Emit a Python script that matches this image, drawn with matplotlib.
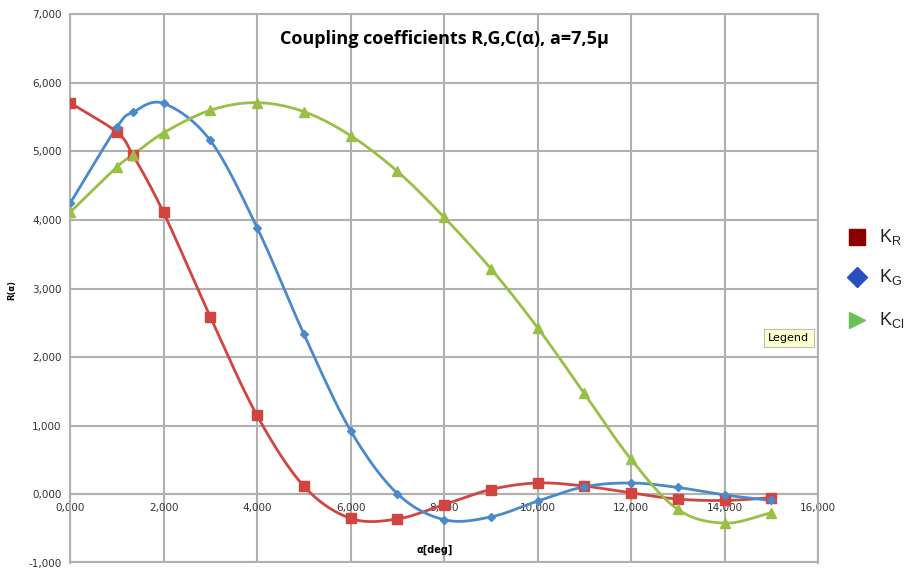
import numpy as np
import matplotlib
matplotlib.use("Agg")
import matplotlib.pyplot as plt
from matplotlib.ticker import FuncFormatter

# angle values (x axis, thousands shown with comma decimal)
alpha = [0, 1, 1.35, 2, 3, 4, 5, 6, 7, 8, 9, 10, 11, 12, 13, 14, 15]

k_r = [5.71, 5.28, 4.94, 4.11, 2.59, 1.15, 0.12, -0.35, -0.36, -0.15,
       0.07, 0.165, 0.12, 0.02, -0.07, -0.09, -0.05]
k_g = [4.24, 5.35, 5.57, 5.70, 5.16, 3.89, 2.34, 0.93, 0.01, -0.37,
       -0.33, -0.10, 0.11, 0.165, 0.10, -0.01, -0.09]
k_cl = [4.11, 4.77, 4.95, 5.27, 5.60, 5.71, 5.58, 5.23, 4.71, 4.04,
        3.29, 2.43, 1.47, 0.51, -0.22, -0.42, -0.27]

labels = ["K$_\\mathregular{R}$", "K$_\\mathregular{G}$", "K$_\\mathregular{Cl}$"]


def smooth(x, y, n=30):
    # Catmull-Rom style smoothing, like Excel's "smoothed line"
    x = np.asarray(x, float)
    y = np.asarray(y, float)
    px = np.concatenate([[2 * x[0] - x[1]], x, [2 * x[-1] - x[-2]]])
    py = np.concatenate([[2 * y[0] - y[1]], y, [2 * y[-1] - y[-2]]])
    xs, ys = [], []
    t = np.linspace(0, 1, n)
    for i in range(1, len(px) - 2):
        p0, p1, p2, p3 = [np.array([px[j], py[j]]) for j in range(i - 1, i + 3)]
        c1 = p1 + (p2 - p0) / 6.0
        c2 = p2 - (p3 - p1) / 6.0
        b = ((1 - t) ** 3)[:, None] * p1 + (3 * (1 - t) ** 2 * t)[:, None] * c1 \
            + (3 * (1 - t) * t ** 2)[:, None] * c2 + (t ** 3)[:, None] * p2
        xs.append(b[:, 0])
        ys.append(b[:, 1])
    return np.concatenate(xs), np.concatenate(ys)


fig = plt.figure(figsize=(9.09, 5.68), dpi=100)
ax = fig.add_axes([0.077, 0.009, 0.823, 0.966])

grid_c = "#b0b0b0"
series = [
    (k_r, "#d2443f", "s", 7, "#8b0000"),
    (k_g, "#4a89cc", "D", 4.5, "#2a4fc4"),
    (k_cl, "#98c046", "^", 6.5, "#6cbf5a"),
]
for ys, col, mk, ms, _ in series:
    sx, sy = smooth(alpha, ys)
    ax.plot(sx, sy, color=col, lw=2, zorder=3)
    ax.plot(alpha, ys, ls="none", marker=mk, ms=ms, color=col, zorder=4)

ax.set_xlim(0, 16)
ax.set_ylim(-1, 7)
ax.set_xticks(np.arange(0, 17, 2))
ax.set_yticks(np.arange(-1, 8, 1))
fmt = FuncFormatter(lambda v, p: "{:.3f}".format(v).replace(".", ","))
ax.xaxis.set_major_formatter(fmt)
ax.yaxis.set_major_formatter(fmt)
ax.tick_params(length=0, labelsize=7.5, colors="#333333", pad=6)
ax.grid(True, color=grid_c, lw=1.5)
ax.set_axisbelow(True)
for s in ax.spines.values():
    s.set_color(grid_c)
    s.set_linewidth(1.5)
ax.spines["bottom"].set_position(("data", 0))
ax.axhline(-1, color=grid_c, lw=3, zorder=1)

ax.text(0.5, 0.955, "Coupling coefficients R,G,C(α), a=7,5μ", transform=ax.transAxes,
        ha="center", va="center", fontsize=13, fontweight="bold", family="Open Sans")
fig.text(0.478, 0.032, "α[deg]", ha="center", va="center", fontsize=7, fontweight="bold")
fig.text(0.013, 0.49, "R(α)", ha="center", va="center", rotation=90, fontsize=6, fontweight="bold")

# legend on the right
leg_y = [0.583, 0.512, 0.437]
for (ys, col, mk, ms, lc), ly, lab in zip(series, leg_y, labels):
    mk2 = ">" if mk == "^" else mk
    fig.lines.append(plt.Line2D([0.943], [ly], transform=fig.transFigure, marker=mk2,
                                ms=12 if mk != "D" else 10, color=lc, ls="none"))
    fig.text(0.967, ly, lab, ha="left", va="center", fontsize=13,
             color="#222222", family="Liberation Sans")

fig.text(0.845, 0.405, "Legend", ha="left", va="center", fontsize=8,
         bbox=dict(boxstyle="square,pad=0.4", fc="#ffffcc", ec="#bbbbbb", lw=0.8))

fig.savefig("out.png", dpi=100)
